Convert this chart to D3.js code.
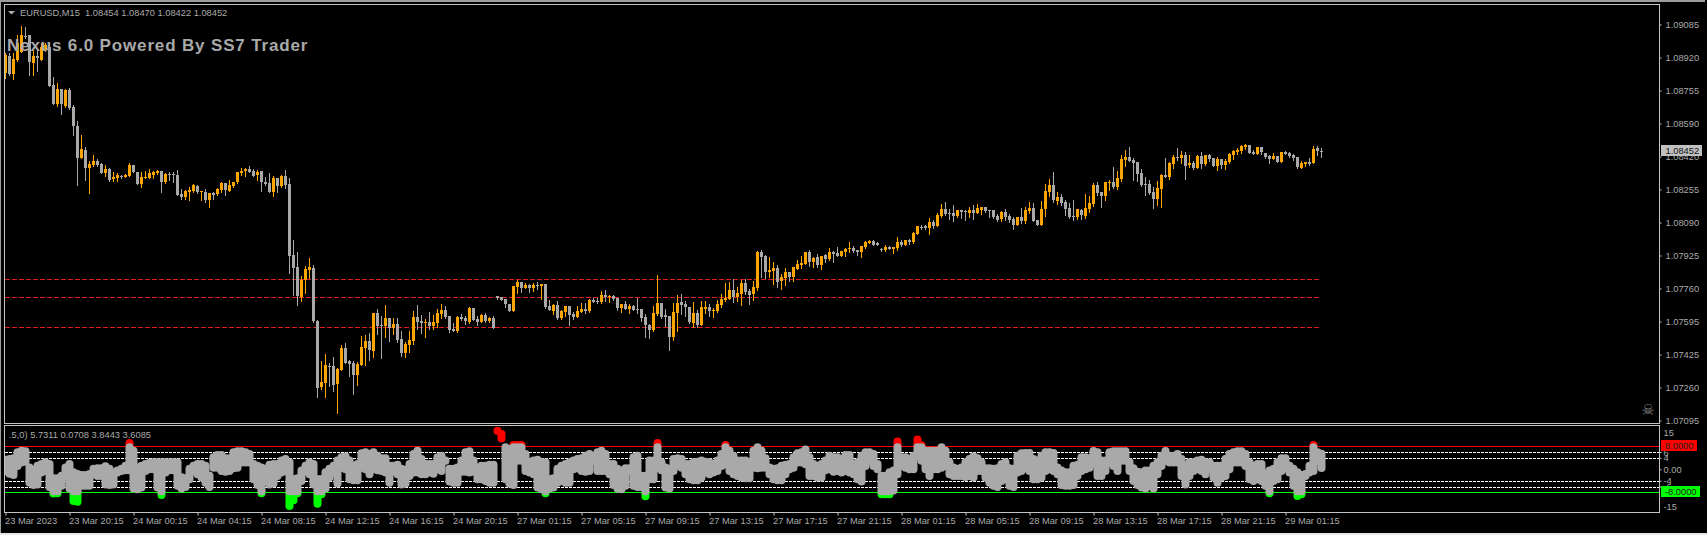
<!DOCTYPE html>
<html>
<head>
<meta charset="utf-8">
<script src="https://cdn.jsdelivr.net/npm/d3@7"></script>
<style>
  html, body { margin: 0; padding: 0; background: #000; overflow: hidden; }
  svg { display: block; }
  text { font-family: "Liberation Sans", Arial, sans-serif; font-size: 9.3px; fill: #a9a9a9; }
</style>
</head>
<body>
<div id="chart"></div>
<script>
// candles, in points above 1.00000
const opens = [
  8841,8927,8837,8907,8949,9029,9032,8894,8927,8911,8957,8974,8782,8687,8762,8677,8757,8674,8577,8416,
  8457,8369,8382,8402,8387,8341,8362,8311,8317,8329,8324,8329,8382,8349,8286,8319,8319,8332,8342,8352,
  8296,8337,8339,8332,8236,8221,8249,8252,8277,8249,8249,8207,8244,8236,8257,8292,8254,8274,8296,8346,
  8352,8362,8352,8332,8352,8296,8292,8247,8319,8277,8329,8287,7932,7871,7721,7804,7857,7867,7602,7269,
  7294,7379,7377,7287,7359,7467,7402,7394,7332,7382,7469,7502,7454,7642,7581,7577,7617,7567,7587,7512,
  7442,7482,7502,7622,7602,7592,7597,7577,7592,7637,7657,7627,7562,7552,7622,7617,7597,7667,7612,7597,
  7632,7602,7617,7727,7722,7712,7687,7652,7772,7797,7767,7782,7767,7784,7777,7787,7677,7652,7682,7617,
  7647,7677,7637,7622,7647,7662,7652,7707,7702,7697,7732,7724,7727,7717,7667,7687,7662,7677,7662,7662,
  7622,7582,7557,7637,7692,7632,7627,7522,7642,7697,7687,7672,7592,7642,7582,7662,7672,7654,7652,7682,
  7707,7712,7757,7722,7737,7792,7752,7737,7767,7947,7927,7847,7852,7867,7802,7817,7847,7822,7862,7882,
  7887,7947,7897,7922,7882,7932,7912,7947,7942,7927,7947,7962,7967,7957,7947,7972,7992,8002,7992,7962,
  7957,7972,7962,7967,7997,7982,8007,7997,8037,8074,8077,8067,8097,8077,8127,8162,8142,8142,8127,8157,
  8152,8142,8157,8142,8157,8172,8157,8157,8127,8112,8147,8127,8112,8082,8122,8102,8152,8167,8107,8082,
  8162,8247,8282,8202,8222,8197,8167,8126,8122,8157,8127,8162,8187,8282,8247,8227,8294,8297,8272,8312,
  8407,8422,8407,8397,8342,8287,8287,8247,8212,8262,8332,8322,8387,8422,8417,8432,8382,8392,8367,8427,
  8387,8432,8417,8377,8412,8382,8397,8432,8447,8452,8472,8482,8447,8437,8472,8442,8427,8412,8427,8397,
  8447,8442,8432,8422,8367,8387,8397,8392,8467,8454
];
const highs = [
  8941,8941,8941,9032,9077,9074,9032,8957,8957,8991,8994,8991,8821,8791,8762,8762,8767,8682,8602,8532,
  8474,8402,8432,8411,8391,8382,8369,8346,8341,8332,8336,8391,8382,8349,8346,8352,8362,8354,8357,8352,
  8341,8346,8349,8357,8261,8257,8271,8287,8282,8252,8261,8244,8249,8266,8296,8292,8307,8299,8346,8366,
  8369,8377,8362,8357,8352,8324,8341,8329,8319,8332,8357,8317,8007,7946,7827,7877,7916,7882,7607,7402,
  7437,7391,7424,7366,7482,7491,7407,7402,7399,7527,7532,7541,7642,7662,7627,7682,7617,7617,7616,7552,
  7499,7552,7652,7682,7632,7612,7647,7632,7662,7687,7677,7627,7592,7627,7637,7627,7672,7667,7627,7637,
  7642,7622,7627,7727,7722,7712,7687,7777,7807,7797,7792,7787,7792,7797,7787,7787,7707,7687,7702,7657,
  7677,7677,7647,7677,7692,7692,7712,7717,7717,7752,7757,7732,7732,7717,7687,7702,7687,7682,7717,7662,
  7637,7587,7677,7832,7692,7662,7627,7692,7732,7737,7702,7672,7697,7657,7702,7702,7687,7667,7707,7737,
  7792,7797,7812,7772,7807,7812,7762,7802,7952,7957,7932,7922,7897,7882,7837,7867,7847,7872,7907,7927,
  7947,7957,7922,7937,7927,7937,7967,7952,7972,7952,7967,7997,7977,7957,7977,8002,8007,8007,7997,7967,
  7982,7977,7972,8022,8007,8007,8012,8047,8077,8082,8082,8117,8107,8142,8187,8197,8162,8182,8157,8157,
  8157,8172,8182,8187,8172,8172,8157,8157,8137,8152,8162,8137,8122,8122,8167,8172,8197,8192,8107,8202,
  8287,8312,8347,8247,8237,8207,8192,8207,8162,8162,8237,8227,8292,8297,8247,8297,8307,8372,8352,8432,
  8457,8472,8417,8397,8362,8322,8307,8272,8302,8337,8417,8397,8432,8467,8452,8447,8432,8402,8432,8447,
  8432,8437,8417,8422,8412,8412,8442,8457,8467,8482,8487,8482,8457,8472,8472,8442,8432,8442,8427,8447,
  8452,8447,8437,8422,8402,8397,8417,8477,8477,8470
];
const lows = [
  8816,8832,8814,8904,8946,9016,8832,8832,8854,8907,8954,8777,8687,8677,8637,8671,8662,8532,8282,8416,
  8307,8244,8379,8377,8341,8329,8302,8302,8304,8317,8321,8327,8347,8287,8271,8317,8317,8319,8339,8249,
  8292,8307,8299,8231,8214,8211,8207,8247,8244,8207,8199,8174,8212,8232,8249,8232,8254,8271,8294,8332,
  8329,8346,8326,8307,8254,8282,8246,8229,8249,8274,8266,7844,7732,7682,7704,7741,7816,7599,7224,7262,
  7224,7279,7254,7144,7357,7391,7329,7239,7282,7382,7382,7407,7424,7537,7417,7524,7502,7537,7499,7427,
  7422,7449,7487,7562,7542,7522,7562,7562,7572,7616,7617,7547,7552,7547,7607,7587,7592,7607,7582,7597,
  7597,7597,7567,7712,7707,7672,7652,7652,7742,7747,7767,7747,7752,7762,7712,7667,7657,7637,7612,7612,
  7627,7582,7612,7622,7647,7642,7647,7697,7692,7692,7702,7697,7707,7657,7647,7662,7642,7657,7642,7602,
  7522,7517,7552,7632,7617,7577,7457,7507,7552,7637,7627,7592,7572,7572,7582,7642,7627,7622,7647,7672,
  7702,7712,7697,7702,7682,7737,7687,7707,7757,7822,7817,7822,7787,7772,7762,7782,7802,7802,7862,7867,
  7887,7877,7872,7872,7862,7897,7907,7897,7927,7927,7927,7947,7947,7932,7922,7967,7992,7982,7982,7952,
  7952,7962,7942,7957,7977,7982,7987,7992,8037,8062,8062,8037,8067,8077,8122,8132,8112,8102,8122,8117,
  8107,8122,8112,8142,8137,8147,8122,8117,8102,8102,8107,8097,8062,8082,8092,8092,8142,8102,8082,8082,
  8127,8227,8197,8187,8182,8132,8117,8107,8112,8112,8117,8147,8177,8232,8172,8207,8257,8267,8262,8302,
  8377,8402,8307,8302,8277,8232,8237,8167,8182,8172,8322,8312,8367,8407,8392,8312,8372,8362,8367,8367,
  8382,8402,8377,8357,8367,8362,8392,8412,8437,8442,8462,8442,8437,8437,8437,8417,8392,8412,8397,8397,
  8437,8422,8407,8367,8367,8377,8382,8392,8432,8422
];
const closes = [
  8932,8837,8911,8991,9032,9024,8899,8927,8916,8974,8982,8777,8687,8762,8687,8757,8666,8577,8419,8461,
  8369,8389,8401,8382,8344,8362,8307,8321,8332,8322,8332,8382,8349,8289,8322,8322,8344,8349,8354,8297,
  8337,8332,8332,8232,8221,8252,8257,8282,8247,8252,8207,8242,8232,8261,8292,8257,8282,8296,8346,8354,
  8364,8347,8329,8349,8296,8287,8246,8319,8277,8329,8282,7927,7869,7724,7807,7861,7872,7602,7269,7296,
  7382,7374,7282,7362,7467,7394,7389,7332,7387,7472,7502,7457,7642,7577,7574,7617,7567,7587,7506,7442,
  7487,7507,7622,7597,7592,7597,7577,7597,7642,7657,7622,7557,7552,7622,7612,7602,7667,7607,7597,7632,
  7602,7617,7567,7717,7707,7687,7652,7777,7797,7767,7782,7767,7782,7781,7787,7672,7657,7682,7617,7652,
  7677,7632,7622,7652,7662,7652,7707,7697,7697,7732,7722,7727,7712,7667,7687,7662,7677,7657,7659,7617,
  7582,7557,7642,7692,7622,7622,7522,7647,7692,7682,7672,7597,7642,7582,7672,7672,7652,7657,7687,7712,
  7717,7757,7722,7742,7792,7747,7732,7772,7947,7922,7847,7857,7867,7797,7822,7847,7822,7872,7887,7892,
  7947,7897,7917,7882,7927,7912,7947,7937,7927,7952,7962,7967,7952,7947,7977,7997,8002,7982,7982,7959,
  7972,7962,7972,7997,7982,8007,7997,8042,8077,8069,8067,8097,8077,8132,8162,8137,8137,8127,8157,8147,
  8149,8157,8142,8167,8172,8152,8154,8122,8107,8147,8122,8107,8082,8122,8102,8157,8167,8102,8082,8162,
  8252,8282,8207,8222,8192,8162,8122,8122,8162,8132,8167,8192,8282,8242,8227,8297,8299,8272,8317,8412,
  8422,8402,8392,8337,8282,8284,8242,8212,8267,8332,8322,8392,8422,8417,8432,8377,8392,8367,8427,8387,
  8432,8412,8377,8412,8382,8402,8437,8452,8457,8477,8482,8442,8437,8472,8447,8422,8412,8427,8397,8447,
  8437,8427,8417,8372,8392,8397,8387,8462,8452,8452
];

// indicator pane, high and low of each bar
const valueHighs = [
  3.7,3.9,4.2,6.3,6.8,6.6,1.0,0.2,1.6,2.2,2.8,2.2,-2.8,-2.8,-1.9,1.0,2.2,-0.7,-1.3,-1.6,
  -1.6,-1.3,0.5,0.7,0.7,1.4,0.5,-0.7,-0.1,0.5,1.6,9.5,6.8,1.0,1.6,2.2,2.6,2.8,2.8,2.8,
  2.8,2.8,2.8,2.8,-2.4,-2.8,0.5,1.6,2.2,2.2,1.6,-1.9,4.5,5.3,5.3,4.2,4.2,6.3,6.6,6.6,
  6.3,5.7,2.2,1.6,1.0,0.5,1.9,2.2,2.2,3.4,3.9,2.8,-3.0,-2.8,-0.1,1.6,2.8,2.2,-3.0,-3.0,
  -0.7,0.5,1.6,3.4,4.5,4.9,3.4,1.6,2.2,5.9,6.3,5.7,6.3,5.1,4.2,4.2,1.6,1.6,1.9,0.5,
  0.2,2.2,5.7,6.8,3.9,2.2,2.2,2.2,4.5,5.1,3.4,0.5,0.5,1.0,3.4,6.3,6.6,3.4,1.0,1.6,
  1.6,1.9,1.9,13.8,12.6,8.0,7.4,8.8,8.8,8.8,5.7,2.8,3.4,3.7,2.8,2.8,-3.0,-2.8,0.5,1.6,
  2.2,2.8,3.4,3.9,4.2,5.1,5.7,4.5,6.3,6.8,5.7,2.2,2.2,0.5,-0.1,0.7,0.7,4.5,5.1,-1.9,
  -1.9,3.4,3.4,9.5,2.8,1.0,0.5,3.9,4.2,3.9,2.2,2.2,2.8,3.0,3.4,3.0,2.8,2.2,3.4,5.7,
  8.8,6.8,5.1,3.4,3.4,3.4,2.8,6.8,8.0,6.8,4.2,1.0,0.5,0.7,1.6,1.9,2.2,4.5,5.9,6.3,
  7.2,4.5,2.2,1.6,2.2,3.4,5.1,4.5,4.5,3.9,5.3,5.3,2.2,2.8,5.1,6.3,6.3,5.7,2.2,-1.9,
  -1.9,-0.7,-0.1,10.0,4.5,4.5,3.9,5.1,10.7,8.6,6.8,6.8,6.8,6.8,8.0,6.8,2.8,1.0,0.5,1.0,
  2.8,3.9,4.9,4.2,2.8,0.7,0.7,0.5,0.7,2.2,2.8,0.7,0.5,5.1,5.9,6.0,6.0,3.9,3.4,5.1,
  6.3,6.3,6.0,1.0,-0.1,-0.7,-0.7,1.6,1.9,4.5,4.5,4.2,6.7,6.3,3.4,3.4,6.3,6.6,6.6,6.6,
  6.6,2.8,0.7,-0.5,-0.7,-0.1,-0.1,1.6,2.8,5.1,6.7,5.1,5.1,5.7,3.9,1.6,2.8,2.8,3.4,3.7,
  2.8,2.8,1.6,1.6,1.6,3.9,5.7,6.3,6.6,6.6,5.7,2.8,1.6,2.2,2.2,-1.3,-0.1,0.5,2.8,4.2,
  4.2,1.6,0.5,-0.7,-1.6,-1.3,1.6,8.8,6.3,5.73
];
const valueLows = [
  -0.9,-1.9,-2.3,0.8,2.0,2.3,-5.0,-5.8,-5.6,-1.5,-0.9,-6.5,-8.8,-8.1,-6.1,-2.7,-7.0,-11.4,-11.6,-6.1,
  -6.1,-6.1,-2.1,-2.7,-2.7,-5.6,-5.8,-5.6,-1.5,-0.9,-0.7,-0.7,-7.0,-7.3,-6.7,-0.9,-0.3,-0.3,-6.7,-9.3,
  -1.5,-0.7,-0.7,-6.1,-7.0,-6.5,-3.8,-0.9,-2.1,-3.2,-5.0,-6.5,0.2,0.2,-0.9,-1.2,-0.9,0.0,0.2,2.0,
  2.0,2.0,-3.8,-5.8,-8.5,-4.4,-5.6,-5.3,-2.7,-1.5,-0.9,-13.1,-11.1,-8.5,-4.4,-0.9,-2.1,-5.6,-12.3,-9.0,
  -7.0,-3.2,-1.5,-5.3,0.2,-0.3,-3.8,-4.2,-4.2,0.2,-0.3,-2.1,-0.3,-0.7,-0.9,-1.5,-5.0,-0.9,-2.1,-5.6,
  -5.3,-2.7,-1.5,-1.5,-2.1,-2.1,-1.5,-1.9,-0.3,-0.9,2.6,-4.6,-5.0,-5.0,-1.2,-1.2,-1.5,-1.2,-3.8,-3.8,
  -4.4,-5.0,-5.0,13.0,10.4,-3.8,-5.3,-5.8,2.6,2.6,-0.9,-1.5,-2.1,-6.7,-7.3,-8.4,-7.0,-6.7,-5.0,-4.4,
  -5.0,-5.0,-0.3,0.0,-0.9,-1.2,-0.9,2.6,-0.9,-0.9,-0.9,-2.1,-5.8,-7.0,-7.3,-6.1,-0.9,-6.1,-6.5,-6.5,
  -9.7,-3.8,-3.8,0.2,-0.7,-6.7,-7.0,-0.9,0.8,0.2,-2.1,-3.8,-4.2,-4.2,-3.2,-1.5,-2.1,-1.5,-0.9,0.8,
  1.4,-0.9,-2.1,-2.7,-3.2,-3.5,-3.5,0.2,0.0,0.2,0.2,-2.1,-3.8,-4.2,-4.2,-2.1,-0.3,0.2,2.0,2.0,
  1.4,-2.7,-2.7,-3.2,-3.2,-0.7,-0.3,-1.2,-0.9,-1.5,-0.9,-1.5,-2.1,-3.8,-4.6,0.8,2.6,0.8,-0.3,-9.0,
  -9.0,-9.0,-7.7,-2.1,0.8,0.2,-0.3,-0.3,4.3,2.6,-0.3,-2.7,-0.3,-0.3,0.2,0.8,-2.1,-2.7,-2.7,-2.7,
  -3.0,-2.7,-3.2,-0.9,-0.9,-3.2,-5.0,-6.1,-6.5,-4.4,-3.8,-6.1,-6.5,-1.5,-0.9,0.2,-0.9,-3.8,-3.8,-3.2,
  -0.9,-0.3,-0.9,-2.1,-5.8,-6.1,-6.1,-5.8,-2.7,-0.9,-0.3,0.2,1.4,-2.7,-2.7,-0.9,2.0,0.8,-0.9,2.6,
  2.6,-0.9,-4.4,-5.8,-6.7,-7.0,-6.1,-7.0,-2.1,0.8,2.6,2.0,2.0,2.0,-2.7,-5.6,-2.7,-0.9,-0.3,-0.9,
  -2.1,-0.3,-3.2,-5.0,-3.2,-2.7,-0.3,2.0,2.0,2.0,0.8,-3.8,-4.4,-3.8,-4.4,-6.1,-8.5,-4.4,-3.8,-0.9,
  0.2,-1.5,-6.1,-9.6,-9.0,-2.7,-1.5,-0.9,2.6,0.07
];
const overBought = 8;
const overSold = -8;

// axis labels
const priceLabels = ["1.09085","1.08920","1.08755","1.08590","1.08420","1.08255","1.08090","1.07925","1.07760","1.07595","1.07425","1.07260","1.07095"];
const timeLabels = ["23 Mar 2023","23 Mar 20:15","24 Mar 00:15","24 Mar 04:15","24 Mar 08:15","24 Mar 12:15","24 Mar 16:15","24 Mar 20:15","27 Mar 01:15","27 Mar 05:15","27 Mar 09:15","27 Mar 13:15","27 Mar 17:15","27 Mar 21:15","28 Mar 01:15","28 Mar 05:15","28 Mar 09:15","28 Mar 13:15","28 Mar 17:15","28 Mar 21:15","29 Mar 01:15"];
const valueTicks = [15, 6, 4, 0, -4, -6, -15];
const dashedLevels = [6, 4, -4, -6];
const priceLevels = [1.07811, 1.07721, 1.07571];

const width = 1707;
const height = 535;
const frameColor = "#c4c4c4";
const upColor = "#ffa500";
const downColor = "#a9a9a9";

const svg = d3.select("#chart").append("svg").attr("width", width).attr("height", height);

const x = d3.scaleLinear().domain([0, opens.length - 1]).range([5.5, 1321.5]);
const yPrice = d3.scaleLinear().domain([1.09085, 1.07095]).range([24.5, 422.5]);
const yValue = d3.scaleLinear().domain([15, -15]).range([426.2, 512.4]);
const toPrice = (points) => 1 + points / 100000;

svg.append("clipPath").attr("id", "value-clip").append("rect")
  .attr("x", 5).attr("y", 426).attr("width", 1654).attr("height", 86);

// window edges
svg.append("rect").attr("x", 0).attr("y", 0).attr("width", 1705).attr("height", 2).attr("fill", "#9c9c9c");
svg.append("rect").attr("x", 0).attr("y", 0).attr("width", 1).attr("height", 533).attr("fill", "#9c9c9c");
svg.append("rect").attr("x", 0).attr("y", 533).attr("width", width).attr("height", 2).attr("fill", "#e6e6e6");

renderPricePane();
renderValuePane();
renderTimeAxis();
renderTexts();

// main chart, levels then candles
function renderPricePane() {
  svg.append("g").selectAll("line").data(priceLevels).join("line")
    .attr("x1", 5).attr("x2", 1320)
    .attr("y1", (d) => Math.round(yPrice(d)) + 0.5)
    .attr("y2", (d) => Math.round(yPrice(d)) + 0.5)
    .attr("stroke", "#dc1e1e")
    .attr("stroke-dasharray", "5,2");

  const candles = svg.append("g").selectAll("g").data(opens.map((o, i) => i)).join("g")
    .attr("fill", (i) => closes[i] >= opens[i] ? upColor : downColor)
    .attr("stroke", (i) => closes[i] >= opens[i] ? upColor : downColor);

  candles.append("line")
    .attr("x1", (i) => x(i)).attr("x2", (i) => x(i))
    .attr("y1", (i) => Math.round(yPrice(toPrice(highs[i]))))
    .attr("y2", (i) => Math.round(yPrice(toPrice(lows[i]))) + 1)
    .attr("stroke-width", 1);

  candles.append("rect")
    .attr("stroke", "none")
    .attr("x", (i) => x(i) - 1.5)
    .attr("width", 3)
    .attr("y", (i) => Math.round(yPrice(toPrice(Math.max(opens[i], closes[i])))))
    .attr("height", (i) => Math.max(1, Math.round(Math.abs(opens[i] - closes[i]) / 5)));

  svg.append("rect").attr("x", 4.5).attr("y", 4.5).attr("width", 1655).attr("height", 419)
    .attr("fill", "none").attr("stroke", frameColor);

  const axis = d3.axisRight(yPrice)
    .tickValues(priceLabels.map((d, i) => 1.09085 - i * 0.00165))
    .tickFormat((d, i) => priceLabels[i])
    .tickSize(2).tickSizeOuter(0).tickPadding(4);
  const g = svg.append("g").attr("transform", "translate(1659.5,0)").call(axis);
  g.select(".domain").remove();
  g.selectAll("line").attr("stroke", frameColor);
  g.selectAll("text").attr("fill", "#a9a9a9").style("font-family", null).style("font-size", null);

  // current price box
  const last = yPrice(toPrice(closes[closes.length - 1]));
  svg.append("rect").attr("x", 1661).attr("y", Math.round(last) - 6).attr("width", 41).attr("height", 11).attr("fill", "#c0c0c0");
  svg.append("text").attr("x", 1665.5).attr("y", Math.round(last) + 3).style("fill", "#111").text(d3.format(".5f")(toPrice(closes[closes.length - 1])));

  // skull marker
  svg.append("text").attr("x", 1648).attr("y", 409).attr("text-anchor", "middle").attr("dy", "0.38em")
    .style("font-family", "'DejaVu Sans'").style("font-size", "15px").style("fill", "#808080").text("\u2620");
}

// indicator pane
function renderValuePane() {
  svg.append("g").selectAll("line").data(dashedLevels).join("line")
    .attr("x1", 5).attr("x2", 1659)
    .attr("y1", (d) => Math.round(yValue(d)) + 0.5)
    .attr("y2", (d) => Math.round(yValue(d)) + 0.5)
    .attr("stroke", "#fff")
    .attr("stroke-dasharray", "3,1");

  const levels = [[overBought, "#ff0000"], [overSold, "#00ff00"]];
  svg.append("g").selectAll("line").data(levels).join("line")
    .attr("x1", 5).attr("x2", 1659)
    .attr("y1", (d) => Math.round(yValue(d[0])) + 0.5)
    .attr("y2", (d) => Math.round(yValue(d[0])) + 0.5)
    .attr("stroke", (d) => d[1]);

  const idx = valueHighs.map((d, i) => i);
  const addBars = (data, top, bottom, color) => {
    svg.append("g").attr("clip-path", "url(#value-clip)").selectAll("line").data(data).join("line")
      .attr("x1", (i) => x(i)).attr("x2", (i) => x(i))
      .attr("y1", (i) => yValue(top(i)) + 1)
      .attr("y2", (i) => yValue(bottom(i)) - 1)
      .attr("stroke", color)
      .attr("stroke-width", 8)
      .attr("stroke-linecap", "round");
  };
  addBars(idx.filter((i) => valueHighs[i] > overBought), (i) => valueHighs[i], (i) => Math.max(valueLows[i], overBought), "#ff0000");
  addBars(idx.filter((i) => valueLows[i] < overSold), (i) => Math.min(valueHighs[i], overSold), (i) => valueLows[i], "#00ff00");
  addBars(idx.filter((i) => valueLows[i] < overBought), (i) => Math.min(valueHighs[i], overBought), (i) => Math.max(valueLows[i], overSold), "#a9a9a9");

  svg.append("rect").attr("x", 4.5).attr("y", 425.5).attr("width", 1655).attr("height", 87)
    .attr("fill", "none").attr("stroke", frameColor);

  const axis = d3.axisRight(yValue)
    .tickValues(valueTicks)
    .tickFormat((d) => d === 0 ? "0.00" : d)
    .tickSize(2).tickSizeOuter(0).tickPadding(2);
  const g = svg.append("g").attr("transform", "translate(1659.5,0)").call(axis);
  g.select(".domain").remove();
  g.selectAll("line").attr("stroke", frameColor);
  g.selectAll("text").attr("fill", "#a9a9a9").style("font-family", null).style("font-size", null)
    .attr("dy", (d) => d === 15 ? "1.0em" : d === -15 ? "-0.35em" : "0.32em");
  g.selectAll(".tick").filter((d) => Math.abs(d) === 15).select("line").remove();

  // level boxes
  const boxes = [[overBought, "#ff0000", "8.0000", 36], [overSold, "#00ff00", "-8.0000", 39]];
  boxes.forEach(([v, color, label, w]) => {
    svg.append("rect").attr("x", 1661).attr("y", Math.round(yValue(v)) - 6).attr("width", w).attr("height", 11).attr("fill", color);
    svg.append("text").attr("x", 1665).attr("y", Math.round(yValue(v)) + 3).style("fill", "#222").text(label);
  });
}

// bottom time axis
function renderTimeAxis() {
  const axis = d3.axisBottom(x)
    .tickValues(timeLabels.map((d, i) => i * 16))
    .tickFormat((d, i) => timeLabels[i])
    .tickSize(3).tickSizeOuter(0).tickPadding(2);
  const g = svg.append("g").attr("transform", "translate(0,512.5)").call(axis);
  g.select(".domain").remove();
  g.selectAll("line").attr("stroke", frameColor);
  g.selectAll("text").attr("fill", "#a9a9a9").attr("text-anchor", "start").attr("dx", -1).style("font-family", null).style("font-size", null);
}

// header texts
function renderTexts() {
  svg.append("path").attr("d", d3.line()([[8, 11], [15, 11], [11.5, 14.5]])).attr("fill", "#b0b0b0");
  svg.append("text").attr("x", 20).attr("y", 16).attr("xml:space", "preserve").style("white-space", "pre").text("EURUSD,M15  1.08454 1.08470 1.08422 1.08452");
  svg.append("text").attr("x", 9).attr("y", 438).text(".5,0) 5.7311 0.0708 3.8443 3.6085");
  svg.append("text").attr("x", 7).attr("y", 50.5)
    .style("font-size", "17px").style("font-weight", "bold").style("letter-spacing", "0.85px").text("Nexus 6.0 Powered By SS7 Trader");
}
</script>
</body>
</html>
